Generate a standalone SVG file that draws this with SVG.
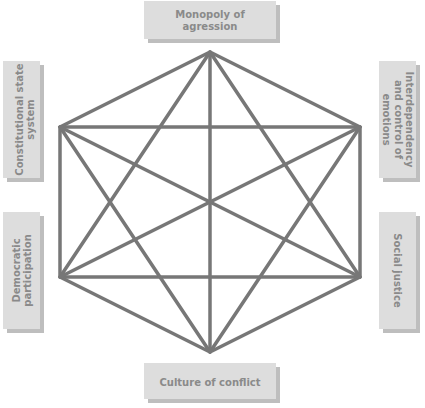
<svg xmlns="http://www.w3.org/2000/svg" width="425" height="408" viewBox="0 0 425 408">
<style>
.sh{fill:#bebebe}
.bx{fill:#dddddd}
.t{font-family:"DejaVu Sans",Verdana,sans-serif;font-weight:bold;font-size:10px;fill:#8a8a8a;text-anchor:middle}
.e{stroke:#777777;stroke-width:3.5;fill:none;stroke-linecap:round;stroke-linejoin:round}
</style>
<rect width="425" height="408" fill="#ffffff"/>
<g id="connectors" class="e">
<polygon points="210,52 360,127 360,277 210,352 60,277 60,127"/>
<polygon points="210,52 360,277 60,277"/>
<polygon points="210,352 60,127 360,127"/>
<line x1="210" y1="52" x2="210" y2="352"/>
<line x1="60" y1="127" x2="360" y2="277"/>
<line x1="360" y1="127" x2="60" y2="277"/>
</g>
<g id="monopoly">
<rect class="sh" x="148" y="5" width="132" height="38"/>
<rect class="bx" x="144" y="1" width="132" height="38"/>
<text class="t" x="210" y="18">Monopoly of</text>
<text class="t" x="210" y="30">agression</text>
</g>
<g id="interdependency">
<rect class="sh" x="383" y="65" width="37" height="117"/>
<rect class="bx" x="379" y="61" width="37" height="117"/>
<text class="t" transform="translate(397.5,119.5) rotate(90)"><tspan x="0" y="-8.5">Interdependency</tspan><tspan x="0" y="3">and control of</tspan><tspan x="0" y="14.5">emotions</tspan></text>
</g>
<g id="social">
<rect class="sh" x="383" y="216" width="37" height="117"/>
<rect class="bx" x="379" y="212" width="37" height="117"/>
<text class="t" transform="translate(397.5,270.5) rotate(90)" x="0" y="3.5">Social justice</text>
</g>
<g id="culture">
<rect class="sh" x="148" y="367" width="132" height="36"/>
<rect class="bx" x="144" y="363" width="132" height="36"/>
<text class="t" x="210" y="386">Culture of conflict</text>
</g>
<g id="democratic">
<rect class="sh" x="7" y="216" width="37" height="117"/>
<rect class="bx" x="3" y="212" width="37" height="117"/>
<text class="t" transform="translate(21.5,270.5) rotate(-90)"><tspan x="0" y="-2">Democratic</tspan><tspan x="0" y="9.5">participation</tspan></text>
</g>
<g id="constitutional">
<rect class="sh" x="7" y="65" width="37" height="117"/>
<rect class="bx" x="3" y="61" width="37" height="117"/>
<text class="t" transform="translate(21.5,119.5) rotate(-90)"><tspan x="0" y="1">Constitutional state</tspan><tspan x="0" y="12">system</tspan></text>
</g>
</svg>
